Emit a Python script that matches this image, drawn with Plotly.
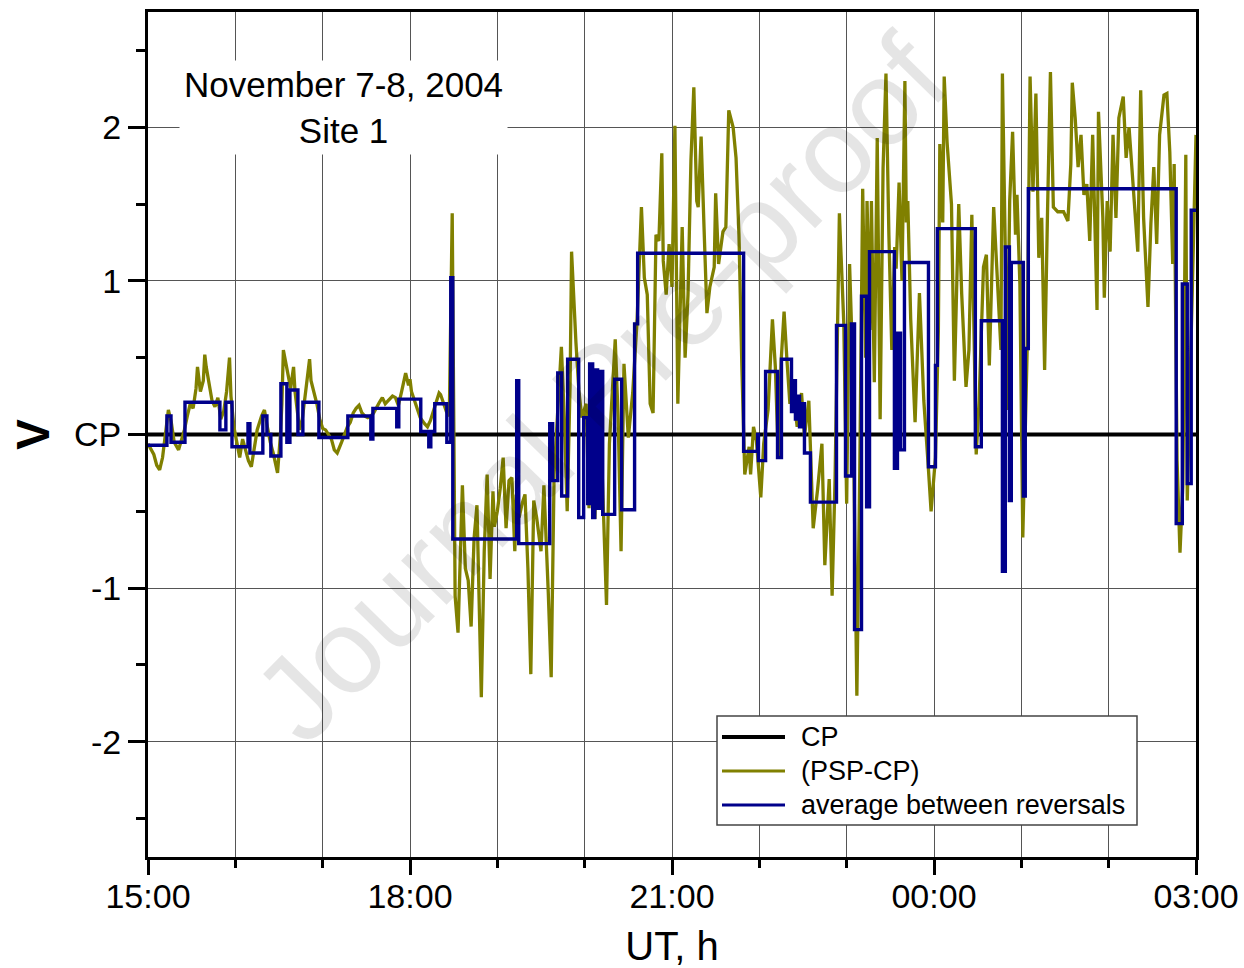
import pandas as pd
import plotly.graph_objects as go

# ---- data -------------------------------------------------------------
# time axis: minutes after 15:00 UT, 7 November 2004
START = pd.Timestamp("2004-11-07 15:00")

# (PSP-CP) record, volts
psp_minutes = [
    0, 2, 4, 6, 8, 10, 12, 14, 16, 18, 21, 23, 25, 27, 29, 31, 33, 34, 36, 38,
    39, 40, 42, 44, 46, 48, 50, 52, 54, 56, 57, 59, 61, 63, 65, 67, 69, 71, 73, 75,
    78, 80, 82, 84, 86, 88, 89, 91, 92, 93, 95, 96, 98, 100, 101, 103, 104, 106, 107, 109,
    111, 112, 114, 116, 118, 120,
    122, 124, 126, 128, 130, 133, 135, 137, 139, 141, 143, 145, 147, 149, 151, 153, 155, 157, 159, 161,
    163, 165, 168, 170, 172, 174, 176, 177, 179, 180, 181, 183, 185, 187, 190, 192, 194, 196, 198, 200,
    201, 203, 205, 207, 209, 210, 211, 213,
    215, 216, 218, 220, 222, 224, 226, 227, 229, 231, 233, 235, 237, 238, 240, 242, 244, 246, 248, 250,
    252, 253, 255, 257, 259, 261, 263, 265, 267, 270, 272, 275, 277, 279, 281, 284, 286, 288, 290, 291,
    294, 296, 298, 301, 303, 305, 307, 310, 312, 315, 317, 321, 323, 325, 327, 330,
    333, 336, 339, 341, 343, 345, 347, 349, 351, 353, 354, 356, 358, 360, 362, 364, 367, 369, 371, 373,
    375, 377, 378, 380, 382, 384, 386, 389, 390, 392, 395, 397, 399, 402, 404, 406, 408, 410, 413, 414,
    416, 418, 421, 423, 426, 429, 431, 433, 435, 437, 439, 441, 443, 446,
    449, 451, 454, 457, 460, 463, 465, 468, 470, 472, 475, 478, 480, 482, 484, 486, 487, 489, 491, 493,
    494, 496, 497, 499, 501, 503, 505, 507, 509, 511, 513, 514, 516, 518, 520, 521, 522, 524, 527, 530,
    533, 536, 538, 541, 543, 544, 546, 547, 549, 552, 554, 557, 559, 562, 564, 566, 569, 571, 574, 576,
    578, 581, 583, 586, 587, 589, 590, 592, 594, 596, 597, 599, 601, 604,
    606, 608, 610, 612, 614, 616, 618, 620, 622, 625, 629, 632, 634, 635, 637, 639, 641, 643, 645, 647,
    649, 652, 653, 656, 657, 659, 661, 663, 665, 667, 670, 672, 674, 677, 680, 682, 684, 687, 689, 691,
    693, 695, 698, 700, 702, 704, 705, 707, 709, 711, 713, 714, 716, 718, 720,
]
psp_volts = [
    -0.06, -0.10, -0.13, -0.20, -0.23, -0.15, 0.00, 0.16, 0.08, -0.05, -0.10, -0.04, 0.03, 0.12, 0.20, 0.17, 0.30, 0.44, 0.28, 0.35,
    0.52, 0.44, 0.33, 0.22, 0.18, 0.24, 0.10, 0.15, 0.28, 0.50, 0.25, 0.05, -0.05, -0.15, -0.03, -0.10, -0.17, -0.21, -0.10, 0.03,
    0.12, 0.16, 0.05, -0.05, -0.12, -0.20, -0.25, 0.00, 0.20, 0.55, 0.45, 0.38, 0.30, 0.44, 0.28, 0.12, 0.03, 0.10, 0.18, 0.30,
    0.49, 0.35, 0.28, 0.20, 0.10, 0.04,
    0.03, 0.00, -0.03, -0.10, -0.12, -0.05, 0.00, 0.05, 0.08, 0.14, 0.17, 0.19, 0.14, 0.12, 0.11, 0.12, 0.14, 0.18, 0.21, 0.24,
    0.20, 0.22, 0.25, 0.24, 0.19, 0.27, 0.35, 0.40, 0.32, 0.36, 0.28, 0.22, 0.17, 0.11, 0.07, 0.05, 0.09, 0.15, 0.20, 0.27,
    0.26, 0.20, 0.15, 0.12, 1.44, 0.20, -1.05, -1.29,
    -0.70, -0.33, -0.87, -0.95, -1.25, -0.68, -0.46, -0.90, -1.71, -0.76, -0.26, -0.94, -0.37, -0.60, -0.50, -0.35, -0.15, -0.61, -0.30, -0.28,
    -0.76, -0.39, -0.54, -0.45, -0.39, -0.87, -1.56, -0.43, -0.54, -0.76, -0.33, -1.03, -1.58, -0.26, 0.05, 0.57, 0.11, -0.50, 0.33, 1.19,
    0.60, 0.29, 0.11, 0.20, -0.48, 0.42, -0.55, 0.33, -0.24, -1.11, -0.06, 0.62, 0.11, -0.76, 0.46, -0.02,
    0.27, 0.74, 1.48, 1.02, 0.91, 0.20, 0.14, 1.30, 1.26, 1.83, 1.13, 0.91, 1.24, 0.96, 2.01, 0.20, 1.35, 0.50, 0.91, 1.78,
    2.26, 1.52, 1.48, 1.94, 1.35, 0.79, 0.96, 1.09, 1.57, 1.11, 1.32, 1.35, 2.11, 2.00, 1.80, 1.30, 0.44, -0.26, -0.08, -0.26,
    0.05, -0.04, -0.41, -0.06, 0.16, 0.75, 0.44, -0.15, 0.48, 0.80, 0.48, 0.20, 0.30, 0.05,
    0.27, -0.01, 0.22, -0.61, -0.36, -0.06, -0.85, -0.29, -1.05, -0.30, 1.44, 0.73, -0.45, 1.11, 0.50, -1.29, -1.70, -0.24, 1.60, 0.50,
    1.52, 0.68, 1.52, 0.34, 1.93, 0.10, 1.73, 2.35, 1.30, 0.55, 1.22, 1.08, 1.64, 1.00, 2.30, 1.38, 1.52, 0.75, 0.08, 0.92,
    0.22, -0.20, -0.50, -0.15, 0.68, 1.89, 1.38, 2.33, 1.90, 1.50, 0.35, 1.50, 0.92, 0.31, 0.55, 1.43, -0.13, 0.22, 1.09, 1.17,
    0.45, 1.48, 1.08, 0.55, 2.35, 1.19, 0.16, 1.52, 1.97, 1.30, 1.56, 0.98, -0.67, 0.55,
    2.33, 1.58, 2.22, 1.15, 1.41, 0.42, 1.45, 2.36, 1.48, 1.45, 1.45, 1.39, 1.76, 2.29, 2.06, 1.74, 1.95, 1.56, 1.63, 1.26,
    1.95, 0.81, 2.10, 1.41, 0.89, 1.52, 1.19, 1.95, 1.41, 2.06, 2.20, 1.80, 2.00, 1.63, 1.19, 2.24, 1.41, 0.83, 1.37, 1.74,
    1.24, 1.95, 2.21, 2.22, 1.84, 1.11, 1.76, -0.17, -0.77, -0.32, 1.82, -0.43, 0.33, 1.19, 1.95,
]

# average between reversals: each value holds from its start time to the next one
avg_minutes = [
    0, 13.0, 15.8, 25.4, 49.4, 53.5, 57.7, 68.7, 70.0, 78.9,
    81.7, 84.4, 91.3, 95.4, 97.5, 103.0, 106.4, 117.4, 137.3, 153.1,
    154.5, 170.9, 172.3, 187.4, 192.9, 194.3, 197.0, 205.3, 208.0, 209.4,
    253.3, 254.7, 276.0, 278.0, 281.5, 284.2, 288.3, 295.9, 299.3, 302.1,
    303.4, 305.5, 306.9, 308.9, 311.0, 312.4, 320.6, 325.4, 334.3, 336.4,
    409.2, 418.8, 419.4, 424.3, 432.5, 435.2, 442.1, 443.5, 444.8, 446.2,
    447.6, 449.0, 451.0, 455.1, 473.0, 479.2, 483.3, 485.4, 490.2, 493.7,
    495.7, 512.8, 514.9, 517.0, 519.7, 536.2, 541.0, 542.3, 568.4, 572.5,
    587.0, 589.0, 591.8, 593.1, 601.4, 602.7, 604.8, 706.4, 710.6, 714.0,
    716.7, 720,
]
avg_volts = [
    -0.07, 0.12, -0.05, 0.21, 0.03, 0.21, -0.08, 0.07, -0.12, 0.12,
    0.00, -0.14, 0.33, -0.05, 0.29, 0.00, 0.21, -0.02, 0.12, -0.03,
    0.17, 0.05, 0.23, 0.02, -0.08, 0.02, 0.20, -0.05, 1.02, -0.68,
    0.35, -0.71, 0.07, -0.30, 0.40, -0.40, 0.49, -0.54, 0.11, -0.45,
    0.46, -0.54, 0.42, -0.48, 0.41, -0.52, 0.36, -0.49, 0.72, 1.18,
    -0.11, 0.00, -0.17, 0.41, -0.15, 0.49, 0.15, 0.35, 0.10, 0.25,
    0.05, 0.20, -0.12, -0.44, 0.71, -0.27, 0.72, -1.27, 0.90, -0.47,
    1.19, -0.22, 0.66, -0.10, 1.12, -0.21, 0.45, 1.34, -0.08, 0.74,
    -0.89, 1.22, -0.43, 1.12, -0.40, 0.56, 1.60, -0.58, 0.98, -0.32,
    1.46, 1.46,
]

cp_minutes = [0, 720]
cp_volts = [0.0, 0.0]

y_tick_values = [-2, -1, 0, 1, 2]
y_tick_labels = ["-2", "-1", "CP", "1", "2"]
y_minor_values = [-2.5, -1.5, -0.5, 0.5, 1.5, 2.5]

assert len(psp_minutes) == len(psp_volts)
assert len(avg_minutes) == len(avg_volts)


def to_time(minutes):
    return START + pd.to_timedelta(minutes, unit="min")


# ---- styling ----------------------------------------------------------
FONT = "Liberation Sans, Arial, Helvetica, sans-serif"
OLIVE = "#808000"
NAVY = "#00008B"
GRID = "#555555"

W, H = 1244, 968
L, R, T, B = 148, 1196, 12, 857   # plot-area edges in pixels


def px(x):
    return (x - L) / (R - L)


def py(y):
    return (B - y) / (B - T)


fig = go.Figure()
fig.add_trace(go.Scatter(x=to_time(cp_minutes), y=cp_volts, mode="lines", name="CP",
                         line=dict(color="black", width=4), showlegend=False))
fig.add_trace(go.Scatter(x=to_time(psp_minutes), y=psp_volts, mode="lines", name="(PSP-CP)",
                         line=dict(color=OLIVE, width=3.3), showlegend=False))
fig.add_trace(go.Scatter(x=to_time(avg_minutes), y=avg_volts, mode="lines",
                         name="average between reversals", line_shape="hv",
                         line=dict(color=NAVY, width=3.4), showlegend=False))

HOUR_MS = 3600 * 1000
fig.update_xaxes(
    type="date", automargin=False,
    range=[START, START + pd.Timedelta(hours=12)],
    tickformat="%H:%M", dtick=3 * HOUR_MS,
    ticks="outside", ticklen=15, tickwidth=3, tickcolor="black",
    ticklabelstandoff=-8,
    tickfont=dict(family=FONT, size=34, color="black"),
    showline=True, linecolor="black", linewidth=3, mirror=True,
    showgrid=True, gridcolor=GRID, gridwidth=1, zeroline=False,
    minor=dict(dtick=HOUR_MS, ticks="outside", ticklen=8, tickwidth=3,
               tickcolor="black", showgrid=True, gridcolor=GRID, gridwidth=1),
    title=dict(text="UT, h", font=dict(family=FONT, size=40, color="black"), standoff=28),
)
fig.update_yaxes(
    automargin=False,
    range=[-2.75, 2.75],
    tickmode="array", tickvals=y_tick_values, ticktext=y_tick_labels,
    ticks="outside", ticklen=17, tickwidth=3, tickcolor="black",
    tickfont=dict(family=FONT, size=34, color="black"),
    showline=True, linecolor="black", linewidth=3, mirror=True,
    showgrid=True, gridcolor=GRID, gridwidth=1, zeroline=False,
    minor=dict(tickvals=y_minor_values, ticks="outside", ticklen=9, tickwidth=3,
               tickcolor="black", showgrid=False),
    title=dict(text="<b>V</b>", font=dict(family=FONT, size=46, color="black"), standoff=10),
)

# legend drawn as a framed box with long line samples
legend_rows = [("CP", "black", 4, 737), ("(PSP-CP)", OLIVE, 3, 771),
               ("average between reversals", NAVY, 3, 805)]
shapes = [dict(type="rect", xref="paper", yref="paper", layer="above",
               x0=px(717), x1=px(1137), y0=py(825), y1=py(716),
               line=dict(color="#444444", width=1.5), fillcolor="white")]
annotations = []
for label, color, width, yrow in legend_rows:
    shapes.append(dict(type="line", xref="paper", yref="paper", layer="above",
                       x0=px(722), x1=px(785), y0=py(yrow), y1=py(yrow),
                       line=dict(color=color, width=width)))
    annotations.append(dict(xref="paper", yref="paper", x=px(799), y=py(yrow),
                            xanchor="left", yanchor="middle", showarrow=False, text=label,
                            font=dict(family=FONT, size=27, color="black")))

annotations.append(dict(xref="paper", yref="paper", x=px(343), y=py(107),
                        xanchor="center", yanchor="middle", showarrow=False,
                        text="November 7-8, 2004<br>Site 1", align="center",
                        bgcolor="white", borderpad=4,
                        font=dict(family=FONT, size=35, color="black")))
annotations.append(dict(xref="paper", yref="paper", x=px(600), y=py(388),
                        xanchor="center", yanchor="middle", showarrow=False,
                        text="Journal Pre-proof", textangle=-45.6,
                        font=dict(family=FONT, size=120, color="rgba(0,0,0,0.10)")))

fig.update_layout(
    width=W, height=H,
    margin=dict(l=L, r=W - R, t=T, b=H - B),
    paper_bgcolor="white", plot_bgcolor="white",
    font=dict(family=FONT, color="black"),
    shapes=shapes, annotations=annotations,
    showlegend=False,
)

fig.write_html("out.html")
